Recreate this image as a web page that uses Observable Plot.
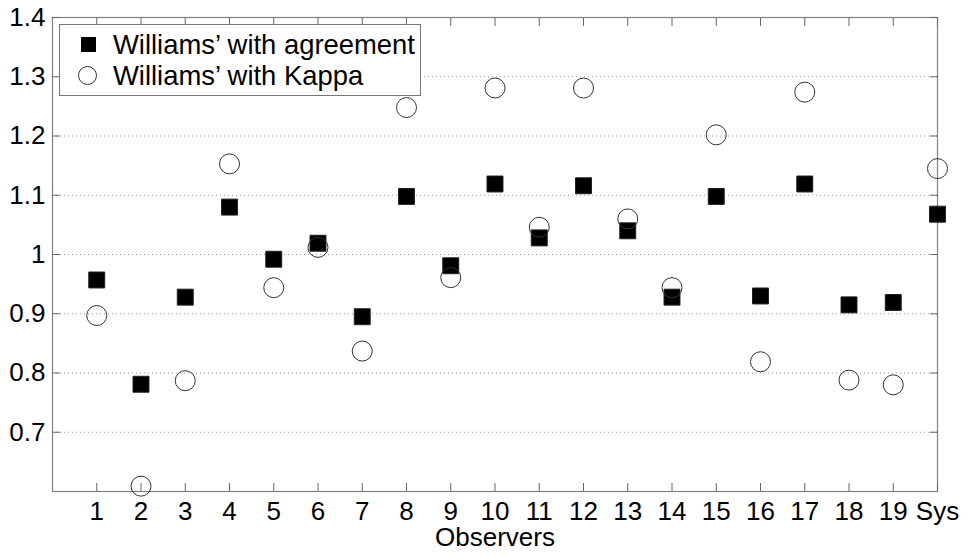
<!DOCTYPE html>
<html><head><meta charset="utf-8">
<script src="https://cdn.jsdelivr.net/npm/d3@7"></script>
<script src="https://cdn.jsdelivr.net/npm/@observablehq/plot@0.6"></script>
<style>
body{margin:0;background:#fff;font-family:"Liberation Sans",Arial,Helvetica,sans-serif;}
#wrap{position:relative;width:968px;height:558px;overflow:hidden;}
#legend{position:absolute;left:59px;top:24px;width:362px;height:72px;border:1px solid #777;background:#fff;box-sizing:border-box;font-size:27.4px;color:#000;}
.item{position:absolute;left:0;height:30px;line-height:30px;}
.item span.t{position:absolute;left:53px;white-space:nowrap;}
.sym{position:absolute;}
.sq{width:15px;height:15px;background:#000;left:21px;top:7px;}
.ci{width:19px;height:19px;border:1px solid #333;border-radius:50%;box-sizing:border-box;left:18px;top:5px;}
</style>
</head><body>
<div id="wrap"><div id="chart"></div>
<div id="legend"></div>
</div>
<script>
const observers = ["1","2","3","4","5","6","7","8","9","10","11","12","13","14","15","16","17","18","19","Sys"];
const agreement = [0.957,0.781,0.928,1.080,0.992,1.019,0.895,1.098,0.981,1.119,1.028,1.116,1.040,0.928,1.098,0.930,1.119,0.915,0.919,1.068];
const kappa     = [0.897,0.609,0.787,1.153,0.944,1.012,0.837,1.248,0.961,1.281,1.046,1.281,1.060,0.944,1.202,0.819,1.274,0.788,0.780,1.145];
const yTicks = [0.7,0.8,0.9,1.0,1.1,1.2,1.3,1.4];
const yTickLabels = ["0.7","0.8","0.9","1","1.1","1.2","1.3","1.4"];
const seriesNames = ["Williams\u2019 with agreement","Williams\u2019 with Kappa"];
const xLabel = "Observers";

const data = observers.map((o,i)=>({x:i+1, label:o, agreement:agreement[i], kappa:kappa[i]}));
const xTicks = observers.map((o,i)=>i+1);
const tickColor = "#666";

const chart = Plot.plot({
  width:968, height:558,
  marginLeft:52, marginRight:31, marginTop:17, marginBottom:67,
  style:{fontFamily:"'Liberation Sans', Arial, sans-serif", fontSize:"26px", background:"white", color:"black"},
  x:{domain:[0, observers.length]},
  y:{domain:[0.6,1.4]},
  marks:[
    Plot.gridY(yTicks.filter(t=>t<1.4), {stroke:"#999", strokeOpacity:1, strokeDasharray:"1,3"}),
    Plot.frame({stroke:"#808080", strokeWidth:1.2}),
    Plot.axisX(xTicks, {anchor:"bottom", tickSize:-8, tickFormat:()=>"", label:null, stroke:tickColor}),
    Plot.axisX(xTicks, {anchor:"top", tickSize:-8, tickFormat:()=>"", label:null, stroke:tickColor}),
    Plot.axisY(yTicks, {anchor:"left", tickSize:-8, tickFormat:()=>"", label:null, stroke:tickColor}),
    Plot.axisY(yTicks, {anchor:"right", tickSize:-8, tickFormat:()=>"", label:null, stroke:tickColor}),
    Plot.axisX(xTicks, {anchor:"bottom", tickSize:0, tickPadding:10, tickFormat:d=>observers[d-1], label:null, fontSize:26}),
    Plot.axisY(yTicks, {anchor:"left", tickSize:0, tickPadding:7, tickFormat:d=>yTickLabels[yTicks.indexOf(d)], label:null, fontSize:26}),
    Plot.text([xLabel], {frameAnchor:"bottom", dy:54, fontSize:26, fill:"black"}),
    Plot.dot(data, {x:"x", y:"agreement", symbol:"square", r:9, fill:"black", stroke:"#222", strokeWidth:1}),
    Plot.dot(data, {x:"x", y:"kappa", symbol:"circle", r:10, fill:"none", stroke:"#333", strokeWidth:1})
  ]
});
document.getElementById("chart").appendChild(chart);

const legend = document.getElementById("legend");
seriesNames.forEach((name,i)=>{
  const it = document.createElement("div");
  it.className = "item";
  it.style.top = (5 + i*31) + "px";
  it.style.width = "100%";
  const s = document.createElement("div");
  s.className = "sym " + (i===0 ? "sq" : "ci");
  it.appendChild(s);
  const t = document.createElement("span");
  t.className = "t";
  t.textContent = name;
  it.appendChild(t);
  legend.appendChild(it);
});
</script>
</body></html>
